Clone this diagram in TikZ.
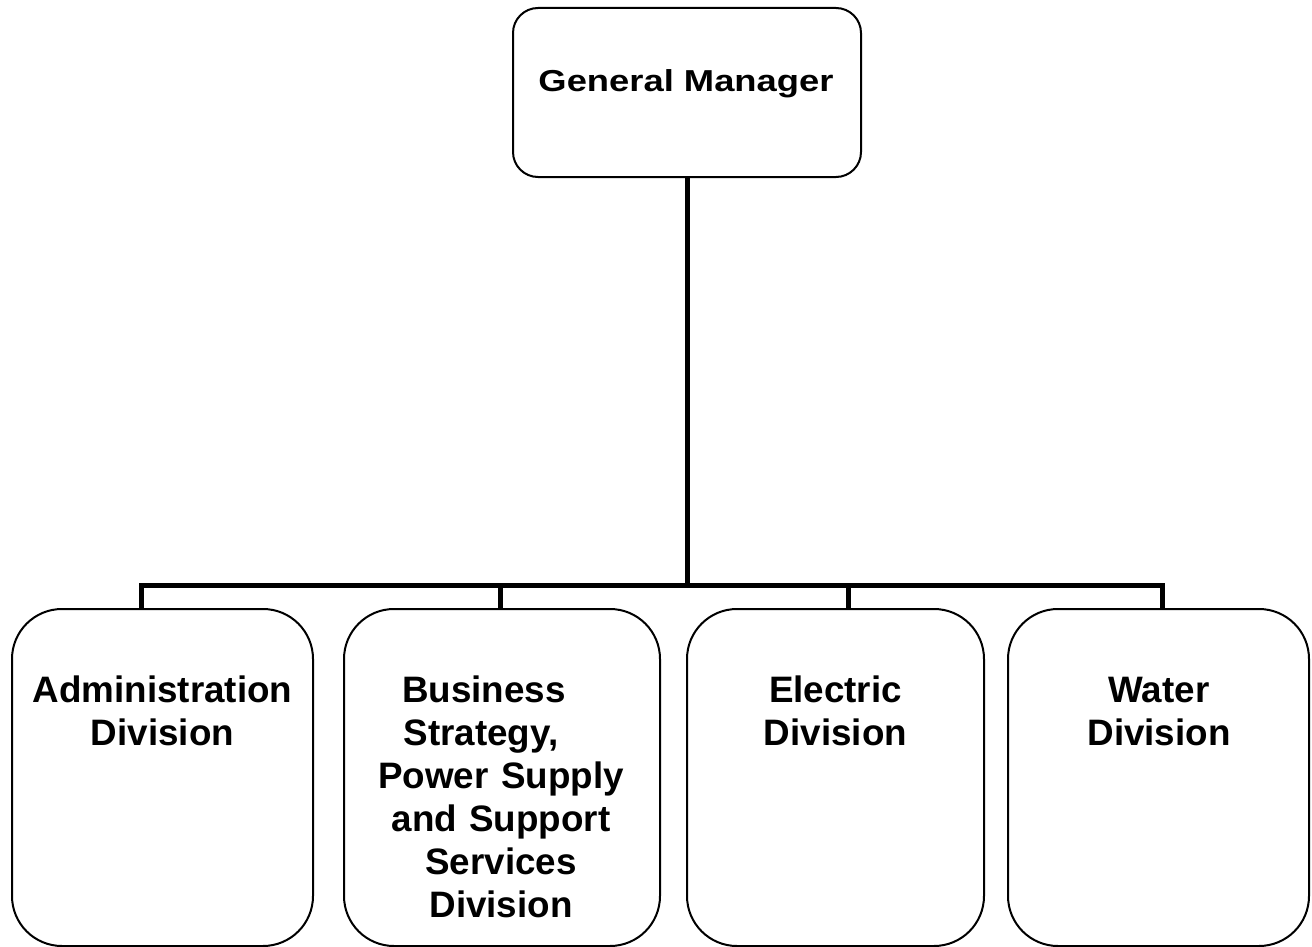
\documentclass[tikz,border=0pt]{standalone}
\usepackage{fontspec}
\setmainfont{Liberation Sans}
\usepackage{graphicx}
\begin{document}
\begin{tikzpicture}[x=0.5pt,y=-0.5pt,
  box/.style={draw=black,line width=1pt,rounded corners=25pt,minimum height=168.5pt,inner sep=0pt},
  topbox/.style={draw=black,line width=1pt,rounded corners=12.5pt,minimum width=174pt,minimum height=84.5pt,inner sep=0pt},
  lbl/.style={font=\fontsize{18.4}{21.5}\selectfont\bfseries,align=center,text width=160pt,inner sep=0pt,anchor=base},
  toplbl/.style={font=\fontsize{15.15}{18}\selectfont\bfseries,inner sep=0pt,anchor=base},
  conn/.style={draw=black,line width=2.5pt,line join=miter,line cap=butt}]
\useasboundingbox (0,0) rectangle (1312,947);
\fill[white] (0,0) rectangle (1312,947);
% top box
\node[topbox] (gm) at (687,92.5) {};
\node[toplbl] (gmt) at (686,92) {\scalebox{1.2}[1]{General Manager}};
% bottom boxes
\node[box,minimum width=150.5pt] (b1) at (162.5,777.5) {};
\node[box,minimum width=158pt] (b2) at (502,777.5) {};
\node[box,minimum width=148.5pt] (b3) at (835.5,777.5) {};
\node[box,minimum width=150.5pt] (b4) at (1158.5,777.5) {};
\node[lbl] (t1) at (162.5,702) {Administration\\Division};
\node[lbl] (t2) at (501,702) {Business\hbox to 17pt{}\\Strategy,\hbox to 20pt{}\\Power Supply\\and Support\\Services\\Division};
\node[lbl] (t3) at (835.5,702) {Electric\\Division};
\node[lbl] (t4) at (1159,702) {Water\\Division};
% connectors
\coordinate (j1) at (141.5,585);
\coordinate (j2) at (500,585);
\coordinate (j3) at (848.5,585);
\coordinate (j4) at (1162,585);
\draw[conn] (gm.south) -- (gm.south |- j1);
\draw[conn] (b1.north -| j1) -- (j1) -- (j4) -- (b4.north -| j4);
\draw[conn] (b2.north -| j2) -- (j2);
\draw[conn] (b3.north -| j3) -- (j3);
\end{tikzpicture}
\end{document}
